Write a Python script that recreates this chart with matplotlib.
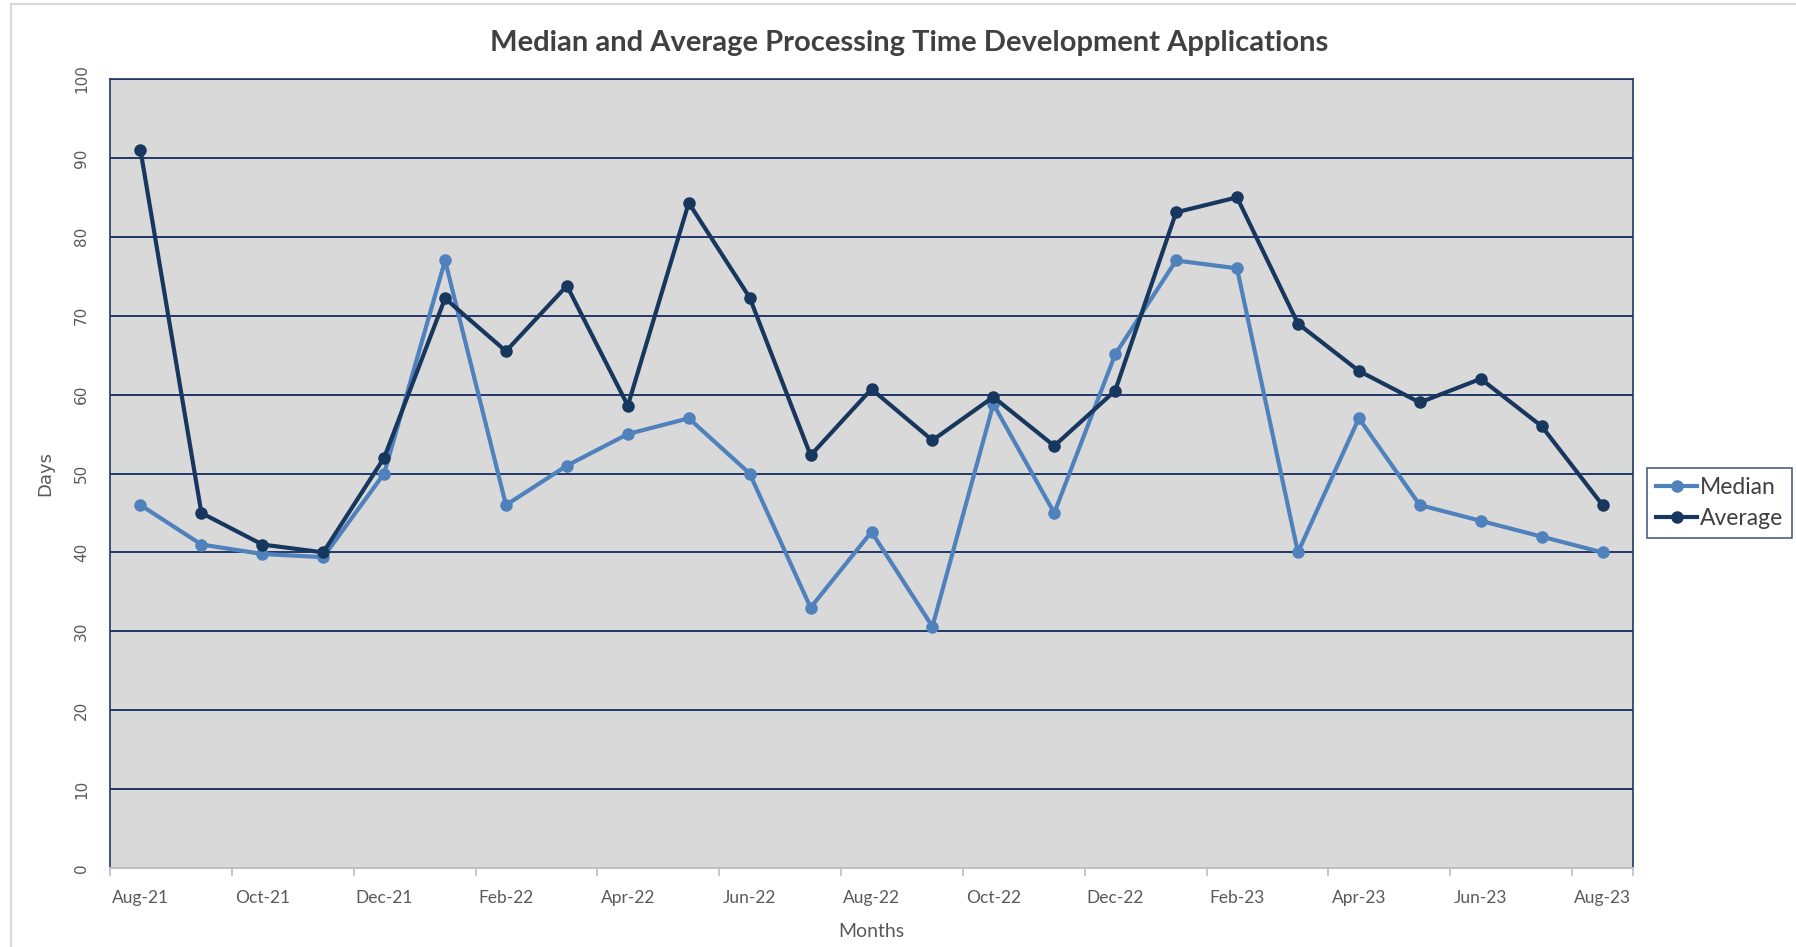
import matplotlib
matplotlib.use("Agg")
import matplotlib.pyplot as plt
from matplotlib.patches import Rectangle

months = ["Aug-21", "Sep-21", "Oct-21", "Nov-21", "Dec-21", "Jan-22", "Feb-22", "Mar-22",
          "Apr-22", "May-22", "Jun-22", "Jul-22", "Aug-22", "Sep-22", "Oct-22", "Nov-22",
          "Dec-22", "Jan-23", "Feb-23", "Mar-23", "Apr-23", "May-23", "Jun-23", "Jul-23",
          "Aug-23"]
median_days = [46, 41, 39.8, 39.4, 50, 77, 46, 51, 55, 57, 50, 33, 42.6, 30.6, 58.8, 45,
               65.1, 77, 76, 40, 57, 46, 44, 42, 40]
average_days = [91, 45, 41, 40, 52, 72.2, 65.5, 73.8, 58.6, 84.3, 72.3, 52.3, 60.7, 54.2,
                59.7, 53.5, 60.5, 83.1, 85, 69, 63, 59, 62, 56, 46]
y_ticks = list(range(0, 101, 10))

MEDIAN_COLOR = "#4F81BD"
AVERAGE_COLOR = "#17375E"
GRID_COLOR = "#1F3864"
TEXT_COLOR = "#595959"

W, H = 1796, 947
fig = plt.figure(figsize=(W / 100, H / 100), dpi=100)
fig.patch.set_facecolor("white")

# light chart-area border like the spreadsheet export
fig.patches.append(Rectangle((11 / W, -0.05), 1.2, 1 - 4 / H + 0.05, transform=fig.transFigure,
                             fill=False, edgecolor="#D9D9D9", linewidth=1.5))

ax = fig.add_axes([110 / W, 79 / H, (1633 - 110) / W, (868 - 79) / H])
ax.set_facecolor("#D9D9D9")

x = list(range(len(months)))
ax.plot(x, median_days, color=MEDIAN_COLOR, lw=3.0, marker="o", ms=8, label="Median", zorder=3)
ax.plot(x, average_days, color=AVERAGE_COLOR, lw=3.0, marker="o", ms=8, label="Average", zorder=4)

ax.set_xlim(-0.5, len(months) - 0.5)
ax.set_ylim(0, 100)
ax.set_yticks(y_ticks)
ax.set_yticklabels([str(v) for v in y_ticks], rotation=90, va="center",
                   fontsize=11, color=TEXT_COLOR, family="DejaVu Sans")
ax.tick_params(axis="y", length=0, pad=15)

ax.set_xticks(x[::2])
ax.set_xticklabels(months[::2], fontsize=12.5, color=TEXT_COLOR, family="Lato")
ax.set_xticks([i - 0.5 for i in x[::2]] + [len(months) - 0.5], minor=True)
ax.tick_params(axis="x", which="major", length=0, pad=16)
ax.tick_params(axis="x", which="minor", length=6, color="#BFBFBF", width=1.2)

for v in y_ticks[1:]:
    ax.axhline(v, color=GRID_COLOR, lw=1.4, zorder=1)

for side in ["left", "top", "right"]:
    ax.spines[side].set_color(GRID_COLOR)
    ax.spines[side].set_linewidth(1.2)
ax.spines["bottom"].set_color("#BFBFBF")
ax.spines["bottom"].set_linewidth(1.5)

ax.set_xlabel("Months", fontsize=14, color=TEXT_COLOR, family="Lato", labelpad=12)
ax.set_ylabel("Days", fontsize=13, color=TEXT_COLOR, family="DejaVu Sans", labelpad=14)

fig.text(0.506, 0.955, "Median and Average Processing Time Development Applications",
         ha="center", va="center", fontsize=21, fontweight="bold", color="#404040",
         family="Lato")

leg = ax.legend(loc="center left", bbox_to_anchor=(1647 / W, 1 - 503 / H),
                bbox_transform=fig.transFigure, fontsize=16.5, frameon=True, fancybox=False,
                handlelength=1.8, handletextpad=0.1, borderpad=0.4, labelspacing=0.45,
                borderaxespad=0)
leg.get_frame().set_edgecolor(GRID_COLOR)
leg.get_frame().set_linewidth(1.2)
for t in leg.get_texts():
    t.set_color("#404040")
    t.set_family("Lato")

fig.savefig("out.png", dpi=100)
